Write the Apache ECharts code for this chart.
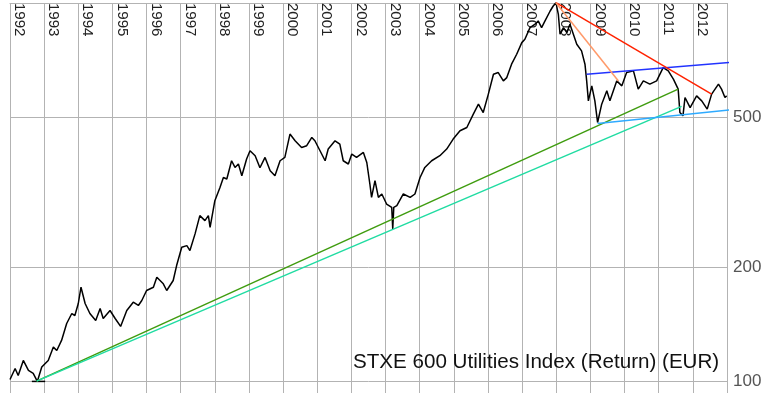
<!DOCTYPE html>
<html>
<head>
<meta charset="utf-8">
<script src="https://cdn.jsdelivr.net/npm/echarts@6/dist/echarts.min.js"></script>
<style>
html,body{margin:0;padding:0;background:#fff;}
#chart{width:770px;height:393px;}
</style>
</head>
<body>
<div id="chart"></div>
<script>
// Tick labels
const yearLabels = ['1992','1993','1994','1995','1996','1997','1998','1999','2000','2001','2002','2003','2004','2005','2006','2007','2008','2009','2010','2011','2012'];
const valueTicks = [100, 200, 500];
const valueGridLines = [100, 200, 500, 1000];

// STXE 600 Utilities Index (Return) (EUR) - decimal year / index value
const indexYears = [
1992.00,1992.15,1992.24,1992.39,1992.54,1992.68,1992.80,1992.93,1993.12,1993.27,1993.37,1993.51,1993.66,1993.81,1993.90,
1994.00,1994.08,1994.20,1994.34,1994.51,1994.64,1994.73,1994.93,1995.08,1995.24,1995.42,1995.61,1995.76,1995.86,
1996.00,1996.20,1996.30,1996.49,1996.59,1996.78,1996.88,1997.03,1997.18,1997.27,1997.42,1997.56,1997.71,1997.81,1997.86,
1998.00,1998.15,1998.25,1998.35,1998.49,1998.59,1998.69,1998.79,1998.93,1999.03,1999.18,1999.32,1999.47,1999.62,1999.76,1999.91,
2000.05,2000.20,2000.35,2000.54,2000.69,2000.84,2000.93,2001.08,2001.23,2001.32,2001.52,2001.66,2001.76,2001.91,
2002.01,2002.15,2002.35,2002.45,2002.54,2002.59,2002.69,2002.79,2002.89,2003.03,2003.18,2003.21,2003.24,2003.33,2003.52,2003.72,2003.86,
2004.01,2004.15,2004.35,2004.59,2004.79,2004.98,2005.18,2005.38,2005.57,2005.72,2005.86,
2006.01,2006.16,2006.30,2006.45,2006.55,2006.69,2006.84,2006.99,2007.08,2007.23,2007.38,2007.47,2007.57,2007.67,2007.82,2007.91,2007.99,
2008.06,2008.11,2008.21,2008.31,2008.40,2008.50,2008.60,2008.74,2008.84,2008.89,2008.94,2009.04,2009.13,2009.21,2009.33,2009.48,2009.57,2009.77,2009.92,
2010.06,2010.26,2010.40,2010.55,2010.74,2010.94,2011.13,2011.28,2011.43,2011.57,2011.62,2011.71,2011.77,2011.92,
2012.11,2012.26,2012.42,2012.55,2012.75,2012.84,2012.94,2012.99
];
const indexValues = [
101,108,103.5,113.4,106.7,104.8,99.8,108.9,113.4,123,120.5,128.1,142,150.9,149.1,
160.4,177.1,160.4,150.9,144.6,155.6,146.4,153.7,146.4,139.5,153.7,161.7,158.5,163.4,
173.6,177.1,188.2,180.8,173.6,184.5,202.1,225.9,228.2,221.4,245.1,273.9,265.7,273.9,255,
300,325.3,345.6,342.3,382.6,367.4,375.1,349.2,386.6,406.6,394.5,366.7,390.4,360,349.2,382.6,
390.4,450.1,432.1,414.9,419.3,440.9,432.1,406.6,382.6,410.9,432.1,423.6,382.6,375.1,
398.6,390.4,402.5,378.6,332.1,306.1,338.8,306.1,312.5,294,288.1,252.6,288,291.1,312.5,306.1,312.5,
345.6,367.4,382.6,394.5,410.9,436.6,459.2,468.5,508.3,540.1,513.2,
574.1,648.2,654.6,622.3,634.9,688.9,731.9,785.6,801.9,860.7,878.7,896.5,860.7,896.5,952.5,981.9,1002,
933.6,826.6,860.7,834.8,878.7,826.6,778,746.9,688.9,622.3,551,603.8,551,483,540.1,585.7,551,622.3,603.8,
654.6,661.4,591.8,622.3,610.1,622.3,674.8,661.4,628.8,591.8,513.2,503,562.3,529,
568.1,551,524,574.1,610.1,591.8,562.3,568.1
];

// Trend lines: [year, value] end points
const trendGreen = [[1992.78, 100], [2011.57, 592]];
const trendTeal = [[1992.78, 100], [2011.67, 533]];
const trendLightBlue = [[2009.21, 480], [2014.26, 535]];
const trendBlue = [[2008.89, 648], [2014.26, 710]];
const trendRed = [[2007.99, 1002], [2012.55, 574]];
const trendOrange = [[2007.99, 1002], [2009.82, 622]];
const lowMarker = [[1992.64, 99.8], [1993.03, 99.8]];

const indexData = indexYears.map((y, i) => [y, indexValues[i]]);

// year labels sit just right of each year's grid line
const LABEL_SHIFT = 0.27;
const yearLabelPositions = yearLabels.map(y => Number(y) + LABEL_SHIFT);

function trendSeries(data, color) {
  return {
    type: 'line', data: data, showSymbol: false, clip: false, z: 3,
    lineStyle: { color: color, width: 1.5 }, silent: true
  };
}

const chart = echarts.init(document.getElementById('chart'), null, { renderer: 'canvas' });
chart.setOption({
  animation: false,
  backgroundColor: '#ffffff',
  title: {
    text: 'STXE 600 Utilities Index (Return) (EUR)',
    left: 353, top: 352, padding: 0,
    textStyle: { fontFamily: 'Liberation Sans', fontSize: 20.6, fontWeight: 'normal', color: '#111' }
  },
  grid: { left: 10, right: 43, top: 2, bottom: 0, containLabel: false },
  xAxis: {
    type: 'value', position: 'top', min: 1992, max: 2013, interval: 1,
    axisLine: { show: true, lineStyle: { color: '#b3b3b3', width: 1 } },
    axisTick: { show: false },
    splitLine: { show: true, lineStyle: { color: '#b3b3b3', width: 1 } },
    axisLabel: {
      inside: true, rotate: 90, margin: 0,
      customValues: yearLabelPositions,
      fontFamily: 'Liberation Sans', fontSize: 15, color: '#222',
      formatter: function (v) {
        const idx = Math.floor(v + 0.001) - 1992;
        return (idx >= 0 && idx < yearLabels.length) ? yearLabels[idx] : '';
      }
    }
  },
  yAxis: {
    type: 'log', logBase: 10, position: 'right', min: 93, max: 1000,
    axisLine: { show: false },
    axisTick: { show: false, customValues: valueGridLines },
    splitLine: { show: true, lineStyle: { color: '#b3b3b3', width: 1 } },
    axisLabel: {
      customValues: valueTicks, margin: 6,
      fontFamily: 'Liberation Sans', fontSize: 17, color: '#555'
    }
  },
  series: [
    { type: 'line', data: indexData, showSymbol: false, z: 2,
      lineStyle: { color: '#000', width: 1.5 }, silent: true },
    trendSeries(lowMarker, '#000'),
    trendSeries(trendGreen, '#3f9c0f'),
    trendSeries(trendTeal, '#20dca2'),
    trendSeries(trendLightBlue, '#2eaaff'),
    trendSeries(trendBlue, '#2233ff'),
    trendSeries(trendRed, '#ff2200'),
    trendSeries(trendOrange, '#ff9a6a')
  ]
});
</script>
</body>
</html>
